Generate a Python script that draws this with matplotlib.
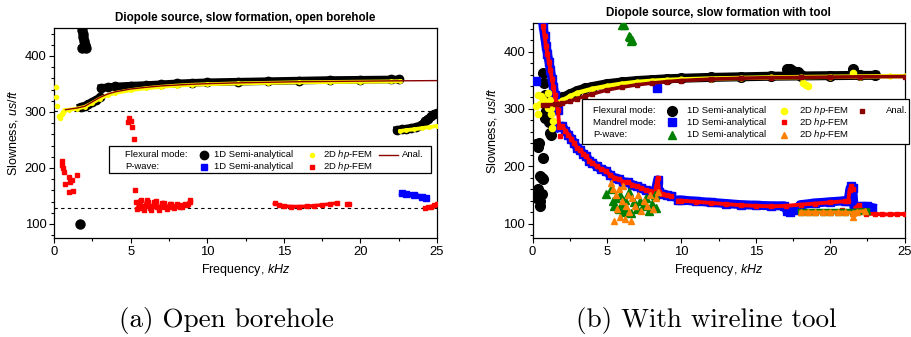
import matplotlib
matplotlib.use("Agg")
import matplotlib.pyplot as plt
from matplotlib.lines import Line2D
from matplotlib.patches import Rectangle
from matplotlib.ticker import MultipleLocator

plt.rcParams["font.family"] = ["Liberation Sans", "DejaVu Sans"]
plt.rcParams["mathtext.fontset"] = "custom"
plt.rcParams["mathtext.rm"] = "Liberation Sans"
plt.rcParams["mathtext.it"] = "Liberation Sans:italic"

BLACK, YELLOW, MAROON = "#000000", "#FFFF00", "#8B0000"
BLUE, RED, GREEN, ORANGE = "#0000FF", "#FF0000", "#008000", "#FF8000"

# ---------------- (a) open borehole ----------------
# flexural mode, 1D semi-analytical: isolated roots
a_flex1d_pts_f = [1.70, 1.85, 1.87, 1.90, 1.95, 2.00, 1.80, 2.10, 2.05]
a_flex1d_pts_v = [100, 447, 440, 433, 426, 420, 415, 415, 418]
# flexural mode, 1D semi-analytical: continuous branches
a_flex1d_b1_f = [1.75, 2.0, 2.25, 2.5, 2.75, 3.0]
a_flex1d_b1_v = [309, 311, 314, 318, 322, 326]
a_flex1d_b2_f = [3.1, 3.5, 4, 5, 6, 7, 8, 9, 10, 12, 14, 16, 18, 20, 22, 22.5]
a_flex1d_b2_v = [343, 344, 345.5, 347, 348, 349.5, 351, 352, 353, 354, 355, 356, 357, 357.5, 358, 358]
a_flex1d_b3_f = [22.4, 22.7, 23.0, 23.3, 23.6, 23.95, 24.1, 24.2, 24.4, 24.6, 24.8, 25.0]
a_flex1d_b3_v = [268, 269, 270, 271.5, 273, 276, 279, 284, 288, 292, 296, 298]
# flexural mode, 2D hp-FEM
a_flex2d_pts_f = [0.10, 0.12, 0.20, 0.30, 0.40, 0.50, 0.60]
a_flex2d_pts_v = [344, 326, 310, 293, 290, 296, 300]
a_flex2d_b1_f = [0.7, 1, 1.5, 2, 2.5, 3, 3.5, 4, 5, 6, 7, 8, 9, 10, 12, 14, 16, 18, 20, 22, 22.6]
a_flex2d_b1_v = [303, 304, 306, 309, 316, 324, 330, 334, 339, 342.5, 345, 347, 348.5, 349.5, 351, 352, 353, 353.5, 354, 354.5, 355]
a_flex2d_b2_f = [22.6, 23, 23.5, 24, 24.5, 25]
a_flex2d_b2_v = [266, 267.5, 269, 271, 273, 275]
# flexural mode, analytical
a_anal_f = [0.75, 1, 1.5, 2, 2.5, 3, 3.5, 4, 5, 6, 7, 8, 9, 10, 12, 14, 16, 18, 20, 22, 25]
a_anal_v = [304, 305, 307, 310, 318, 326, 332, 336, 341, 344, 346.5, 348, 349.5, 350.5, 352, 353, 354, 354.5, 355, 355.5, 356]
# P-wave, 1D semi-analytical
a_p1d_f = [22.7, 23.0, 23.5, 24.0, 24.3]
a_p1d_v = [155, 153.5, 151, 148, 146]
# P-wave, 2D hp-FEM
a_p2d_pts_f = [0.50, 0.55, 0.62, 0.68, 0.72, 0.95, 1.00, 1.07, 1.15, 1.22, 1.53,
               4.80, 4.87, 5.00, 5.08, 5.20, 5.30, 5.37, 19.15, 19.25]
a_p2d_pts_v = [213, 205, 199, 193, 172, 157, 184, 175, 178, 159, 187,
               282, 290, 284, 273, 252, 160, 140, 136, 135.5]
a_p2d_b1_f = [5.45, 5.55, 5.65, 5.75, 5.85, 5.95, 6.05, 6.15, 6.25, 6.35, 6.45, 6.55,
              6.65, 6.75, 6.85, 6.95, 7.05, 7.15, 7.25, 7.35, 7.45, 7.55, 7.65, 7.75,
              7.85, 7.95, 8.05, 8.15, 8.25, 8.35, 8.45, 8.55, 8.65, 8.75, 8.85, 8.9]
a_p2d_b1_v = [126, 140, 143, 128, 124, 132, 142, 140, 128, 124, 132, 140,
              141, 130, 125, 130, 138, 138, 130, 126, 130, 136, 136, 130,
              128, 132, 136, 134, 130, 130, 134, 136, 134, 135, 140, 142]
a_p2d_b2_f = [14.4, 14.7, 15, 15.5, 16, 16.5, 17, 17.5, 18, 18.5]
a_p2d_b2_v = [137, 134, 132, 131, 131, 131.5, 132.5, 134, 135.5, 137.5]
a_p2d_b3_f = [24.2, 24.4, 24.6, 24.8, 25.0]
a_p2d_b3_v = [128, 130, 131, 133, 135]
# reference slownesses
a_ref_levels = [302, 129]

# ---------------- (b) with wireline tool ----------------
b_flex1d_pts_f = [0.25, 0.36, 0.42, 0.69, 0.52, 0.62, 0.69, 0.30, 0.36, 0.31, 0.60, 0.47, 0.40, 0.47,
                  0.69, 0.75, 0.85, 0.92, 0.85, 1.07, 1.14, 1.22, 1.30,
                  17.1, 17.3, 17.5, 17.8, 18.0, 21.5]
b_flex1d_pts_v = [238, 233, 240, 214, 183, 180, 177, 157, 160, 145, 151, 139, 148, 130,
                  363, 345, 325, 296, 284, 278, 258, 255, 300,
                  370, 369, 367, 364, 360, 370]
b_flex1d_b_f = [1.8, 2, 2.5, 3, 3.5, 4, 5, 6, 7, 8, 9, 10, 12, 14, 16, 18, 20, 22, 23]
b_flex1d_b_v = [318, 320, 326, 332, 336, 339, 344, 347, 349.5, 351, 352.5, 353.5, 355, 356, 357, 357.5, 358, 358.5, 358.5]
b_flex2d_pts_f = [0.36, 0.58, 0.47, 0.25, 0.36, 0.80, 1.03, 1.14, 1.25, 1.25, 1.37, 1.30, 1.03, 0.70,
                  18.2, 18.35, 18.5, 21.5]
b_flex2d_pts_v = [325, 322, 308, 305, 291, 310, 328, 316, 302, 291, 279, 267, 302, 318,
                  345, 341, 340, 362]
b_flex2d_b_f = [1.8, 2, 2.5, 3, 4, 5, 6, 7, 8, 9, 10, 12, 14, 16, 18, 20, 22, 24, 25]
b_flex2d_b_v = [312, 315, 322, 328, 335, 340, 344, 347, 349, 350.5, 351.5, 353, 354, 355, 355.5, 356, 356.5, 357, 357]
b_anal_f = [0.7, 1, 1.5, 1.8, 2, 2.5, 3, 3.5, 4, 5, 6, 7, 8, 9, 10, 12, 14, 16, 18, 20, 22, 25]
b_anal_v = [306, 307, 308, 309, 310, 313, 318, 322, 326, 333, 338, 342, 345, 347.5, 349.5, 352, 353.5, 354.5, 355, 355.5, 356, 356.5]

b_mand1d_pts_f = [0.2, 8.38]
b_mand1d_pts_v = [348, 337]
b_mand1d_b1_f = [0.7, 0.8, 0.9, 1.0, 1.1, 1.2, 1.3, 1.4, 1.5, 1.6, 1.7]
b_mand1d_b1_v = [447, 428, 410, 396, 382, 368, 352, 338, 324, 310, 298]
b_mand1d_b2_f = [1.8, 2.0, 2.2, 2.4, 2.6, 2.8, 3.0, 3.2, 3.4, 3.6, 3.8, 4.0, 4.3, 4.6, 4.9, 5.2,
                 5.5, 5.8, 6.1, 6.4, 6.7, 7.0, 7.3, 7.6, 7.9, 8.2, 8.4, 8.5, 8.7, 9.0, 9.3]
b_mand1d_b2_v = [268, 270, 262, 255, 248, 240, 232, 228, 222, 218, 210, 206, 200, 195, 192, 185,
                 180, 178, 172, 172, 168, 165, 162, 158, 156, 152, 176, 155, 152, 150, 148]
b_mand1d_b3_f = [9.8, 10, 11, 12, 13, 14, 15, 16, 16.9, 17.1, 17.3, 17.6, 18, 19, 20, 21, 21.2,
                 21.3, 21.4, 21.5, 21.6, 22, 22.5, 22.8]
b_mand1d_b3_v = [141, 141, 139, 137, 135, 133, 132, 131, 131, 122, 120, 124, 133, 136, 138, 140, 140,
                 158, 165, 162, 128, 130, 130, 128]
b_mand2d_pts_f = [1.81, 20.8]
b_mand2d_pts_v = [252, 124]
b_mand2d_b1_f = b_mand1d_b1_f + b_mand1d_b2_f
b_mand2d_b1_v = [445, 428, 410, 396, 382, 368, 352, 338, 324, 310, 298,
                 268, 270, 262, 255, 248, 240, 232, 228, 222, 218, 210, 206, 200, 195, 192, 185,
                 180, 178, 172, 172, 168, 165, 162, 158, 156, 152, 180, 155, 152, 150, 148]
b_mand2d_b2_f = [9.8, 10, 11, 12, 13, 14, 15, 16, 17, 18, 19, 20, 21, 21.2, 21.3, 21.4, 21.5]
b_mand2d_b2_v = [140, 140, 138, 136, 134, 132, 131, 130, 131, 133, 135, 137, 139, 139, 158, 165, 160]
b_mand2d_b3_f = [21.7, 21.9, 22.1, 22.4, 23, 23.5, 24, 24.5, 25]
b_mand2d_b3_v = [128, 132, 124, 117, 117, 116, 116, 116.5, 117]

b_p1d_pts_f = [6.0, 6.15, 6.5, 6.55, 6.6, 6.7,
               4.95, 5.3, 5.4, 5.5, 5.6, 5.8, 5.9, 6.0, 6.1, 6.2, 6.3, 6.5, 6.6, 6.8,
               7.0, 7.2, 7.4, 7.6, 7.8, 8.0, 8.2, 8.3]
b_p1d_pts_v = [447, 447, 428, 425, 418, 420,
               152, 160, 140, 130, 145, 125, 150, 135, 120, 142, 128, 155, 118, 138,
               125, 140, 130, 145, 122, 135, 150, 128]
b_p1d_b_f = [18, 18.5, 19, 19.5, 20, 20.5, 21, 21.5, 22, 22.5]
b_p1d_b_v = [121, 121, 121, 121, 121, 121, 121, 121, 122, 122]
b_p2d_pts_f = [5.3, 5.4, 5.5, 5.6, 5.7, 5.8, 5.9, 6.0, 6.1, 6.2, 6.3, 6.4, 6.5, 6.6,
               6.7, 6.9, 7.1, 7.3, 7.5, 7.7, 7.9, 8.1, 8.3, 8.4, 21.5]
b_p2d_pts_v = [170, 160, 105, 150, 125, 160, 112, 140, 165, 108, 130, 150, 120, 105,
               145, 130, 150, 122, 140, 130, 150, 125, 145, 155, 112]
b_p2d_b_f = [18, 18.5, 19, 19.5, 20, 20.5, 21, 21.5, 21.8, 22.3]
b_p2d_b_v = [120, 120, 120, 120, 120, 120, 119.5, 119, 121, 122]

fig = plt.figure(figsize=(9.12, 3.37), dpi=100)
ax_a = fig.add_axes([0.0592, 0.294, 0.420, 0.623])
ax_b = fig.add_axes([0.584, 0.294, 0.408, 0.638])


def style_axes(ax, title):
    ax.set_xlim(0, 25)
    ax.set_ylim(75, 450)
    ax.xaxis.set_major_locator(MultipleLocator(5))
    ax.xaxis.set_minor_locator(MultipleLocator(2.5))
    ax.yaxis.set_major_locator(MultipleLocator(100))
    ax.yaxis.set_minor_locator(MultipleLocator(20))
    ax.tick_params(which="both", direction="out", top=False, right=False,
                   labelsize=9.4, width=0.8, pad=2)
    ax.tick_params(which="major", length=3.5)
    ax.tick_params(which="minor", length=2)
    for s in ax.spines.values():
        s.set_linewidth(0.9)
    ax.set_xlabel(r"Frequency, $\mathit{kHz}$", fontsize=9, labelpad=3)
    ax.set_ylabel(r"Slowness, $\mathit{us/ft}$", fontsize=9, labelpad=3)
    ax.set_title(title, fontsize=8.4, fontweight="bold", pad=5)


def draw_legend(ax, frame, rows, fs=6.8):
    x0, y0, x1, y1 = frame
    ax.add_patch(Rectangle((x0, y0), x1 - x0, y1 - y0, transform=ax.transAxes,
                           facecolor="white", edgecolor="black", lw=0.9,
                           zorder=20, clip_on=False))
    for y, items in rows:
        for kind, x, payload in items:
            if kind == "text":
                ax.text(x, y, payload, transform=ax.transAxes, fontsize=fs,
                        va="center", ha="left", zorder=21, clip_on=False)
            elif kind == "marker":
                m, c, ms = payload
                ax.add_line(Line2D([x], [y], transform=ax.transAxes, marker=m,
                                   color=c, ms=ms, ls="none", zorder=21, clip_on=False))
            elif kind == "line":
                ax.add_line(Line2D([x, payload[0]], [y, y], transform=ax.transAxes,
                                   color=payload[1], lw=1.0, zorder=21, clip_on=False))


# ---- panel (a)
ax = ax_a
for lvl in a_ref_levels:
    ax.axhline(lvl, color="black", lw=0.8, ls=(0, (3, 3)), zorder=1)
for f, v in [(a_flex1d_b1_f, a_flex1d_b1_v), (a_flex1d_b2_f, a_flex1d_b2_v),
             (a_flex1d_b3_f, a_flex1d_b3_v)]:
    ax.plot(f, v, "-o", color=BLACK, lw=5.5, ms=6, zorder=3)
ax.plot(a_flex1d_pts_f, a_flex1d_pts_v, "o", color=BLACK, ms=6.5, zorder=3)
for f, v in [(a_flex2d_b1_f, a_flex2d_b1_v), (a_flex2d_b2_f, a_flex2d_b2_v)]:
    ax.plot(f, v, "-o", color=YELLOW, lw=2.8, ms=2.5, zorder=4)
ax.plot(a_flex2d_pts_f, a_flex2d_pts_v, "o", color=YELLOW, ms=3, zorder=4)
ax.plot(a_anal_f, a_anal_v, "-", color=MAROON, lw=1.0, zorder=5)
ax.plot(a_p1d_f, a_p1d_v, "-s", color=BLUE, lw=4, ms=4, zorder=3)
for f, v in [(a_p2d_b1_f, a_p2d_b1_v), (a_p2d_b2_f, a_p2d_b2_v), (a_p2d_b3_f, a_p2d_b3_v)]:
    ax.plot(f, v, "-s", color=RED, lw=2.6, ms=2.5, zorder=4)
ax.plot(a_p2d_pts_f, a_p2d_pts_v, "s", color=RED, ms=2.5, zorder=4)
style_axes(ax, "Diopole source, slow formation, open borehole")
draw_legend(ax, (0.1436, 0.31, 0.984, 0.438), [
    (0.395, [("text", 0.185, "Flexural mode:"), ("marker", 0.392, ("o", BLACK, 6)),
             ("text", 0.4185, "1D Semi-analytical"), ("marker", 0.674, ("o", YELLOW, 3)),
             ("text", 0.7016, r"2D $\mathit{hp}$-FEM"), ("line", 0.849, (0.897, MAROON)),
             ("text", 0.908, "Anal.")]),
    (0.338, [("text", 0.185, "P-wave:"), ("marker", 0.392, ("s", BLUE, 4)),
             ("text", 0.4185, "1D Semi-analytical"), ("marker", 0.674, ("s", RED, 2.5)),
             ("text", 0.7016, r"2D $\mathit{hp}$-FEM")]),
])

# ---- panel (b)
ax = ax_b
ax.plot(b_flex1d_b_f, b_flex1d_b_v, "-o", color=BLACK, lw=6.5, ms=7, zorder=3)
ax.plot(b_flex1d_pts_f, b_flex1d_pts_v, "o", color=BLACK, ms=7, zorder=3)
ax.plot(b_flex2d_b_f, b_flex2d_b_v, "-o", color=YELLOW, lw=3.2, ms=3.5, zorder=4)
ax.plot(b_flex2d_pts_f, b_flex2d_pts_v, "o", color=YELLOW, ms=4.5, zorder=4)
ax.plot(b_anal_f, b_anal_v, "-s", color=MAROON, lw=2.6, ms=2.5, zorder=5)
for f, v in [(b_mand1d_b1_f, b_mand1d_b1_v), (b_mand1d_b2_f, b_mand1d_b2_v),
             (b_mand1d_b3_f, b_mand1d_b3_v)]:
    ax.plot(f, v, "-s", color=BLUE, lw=6.5, ms=6, zorder=3)
ax.plot(b_mand1d_pts_f, b_mand1d_pts_v, "s", color=BLUE, ms=6, zorder=3)
for f, v in [(b_mand2d_b1_f, b_mand2d_b1_v), (b_mand2d_b2_f, b_mand2d_b2_v),
             (b_mand2d_b3_f, b_mand2d_b3_v)]:
    ax.plot(f, v, "-s", color=RED, lw=2.8, ms=3, zorder=4)
ax.plot(b_mand2d_pts_f, b_mand2d_pts_v, "s", color=RED, ms=3, zorder=4)
ax.plot(b_p1d_b_f, b_p1d_b_v, "-^", color=GREEN, lw=4, ms=5, zorder=5)
ax.plot(b_p1d_pts_f, b_p1d_pts_v, "^", color=GREEN, ms=5.5, zorder=5)
ax.plot(b_p2d_b_f, b_p2d_b_v, "-^", color=ORANGE, lw=2.5, ms=4, zorder=6)
ax.plot(b_p2d_pts_f, b_p2d_pts_v, "^", color=ORANGE, ms=4.5, zorder=6)
style_axes(ax, "Diopole source, slow formation with tool")
draw_legend(ax, (0.132, 0.437, 1.011, 0.647), [
    (0.592, [("text", 0.162, "Flexural mode:"), ("marker", 0.3755, ("o", BLACK, 7)),
             ("text", 0.416, "1D Semi-analytical"), ("marker", 0.675, ("o", YELLOW, 4.5)),
             ("text", 0.715, r"2D $\mathit{hp}$-FEM"), ("marker", 0.886, ("s", MAROON, 2.5)),
             ("text", 0.949, "Anal.")]),
    (0.538, [("text", 0.162, "Mandrel mode:"), ("marker", 0.3755, ("s", BLUE, 5.5)),
             ("text", 0.416, "1D Semi-analytical"), ("marker", 0.675, ("s", RED, 3)),
             ("text", 0.715, r"2D $\mathit{hp}$-FEM")]),
    (0.479, [("text", 0.162, "P-wave:"), ("marker", 0.3755, ("^", GREEN, 5.5)),
             ("text", 0.416, "1D Semi-analytical"), ("marker", 0.675, ("^", ORANGE, 4)),
             ("text", 0.715, r"2D $\mathit{hp}$-FEM")]),
])

# sub-figure captions
fig.text(0.248, 0.05, "(a) Open borehole", family="cmr10", fontsize=19.5,
         ha="center", va="center")
fig.text(0.774, 0.05, "(b) With wireline tool", family="cmr10", fontsize=19.5,
         ha="center", va="center")

fig.savefig("out.png", dpi=100)
